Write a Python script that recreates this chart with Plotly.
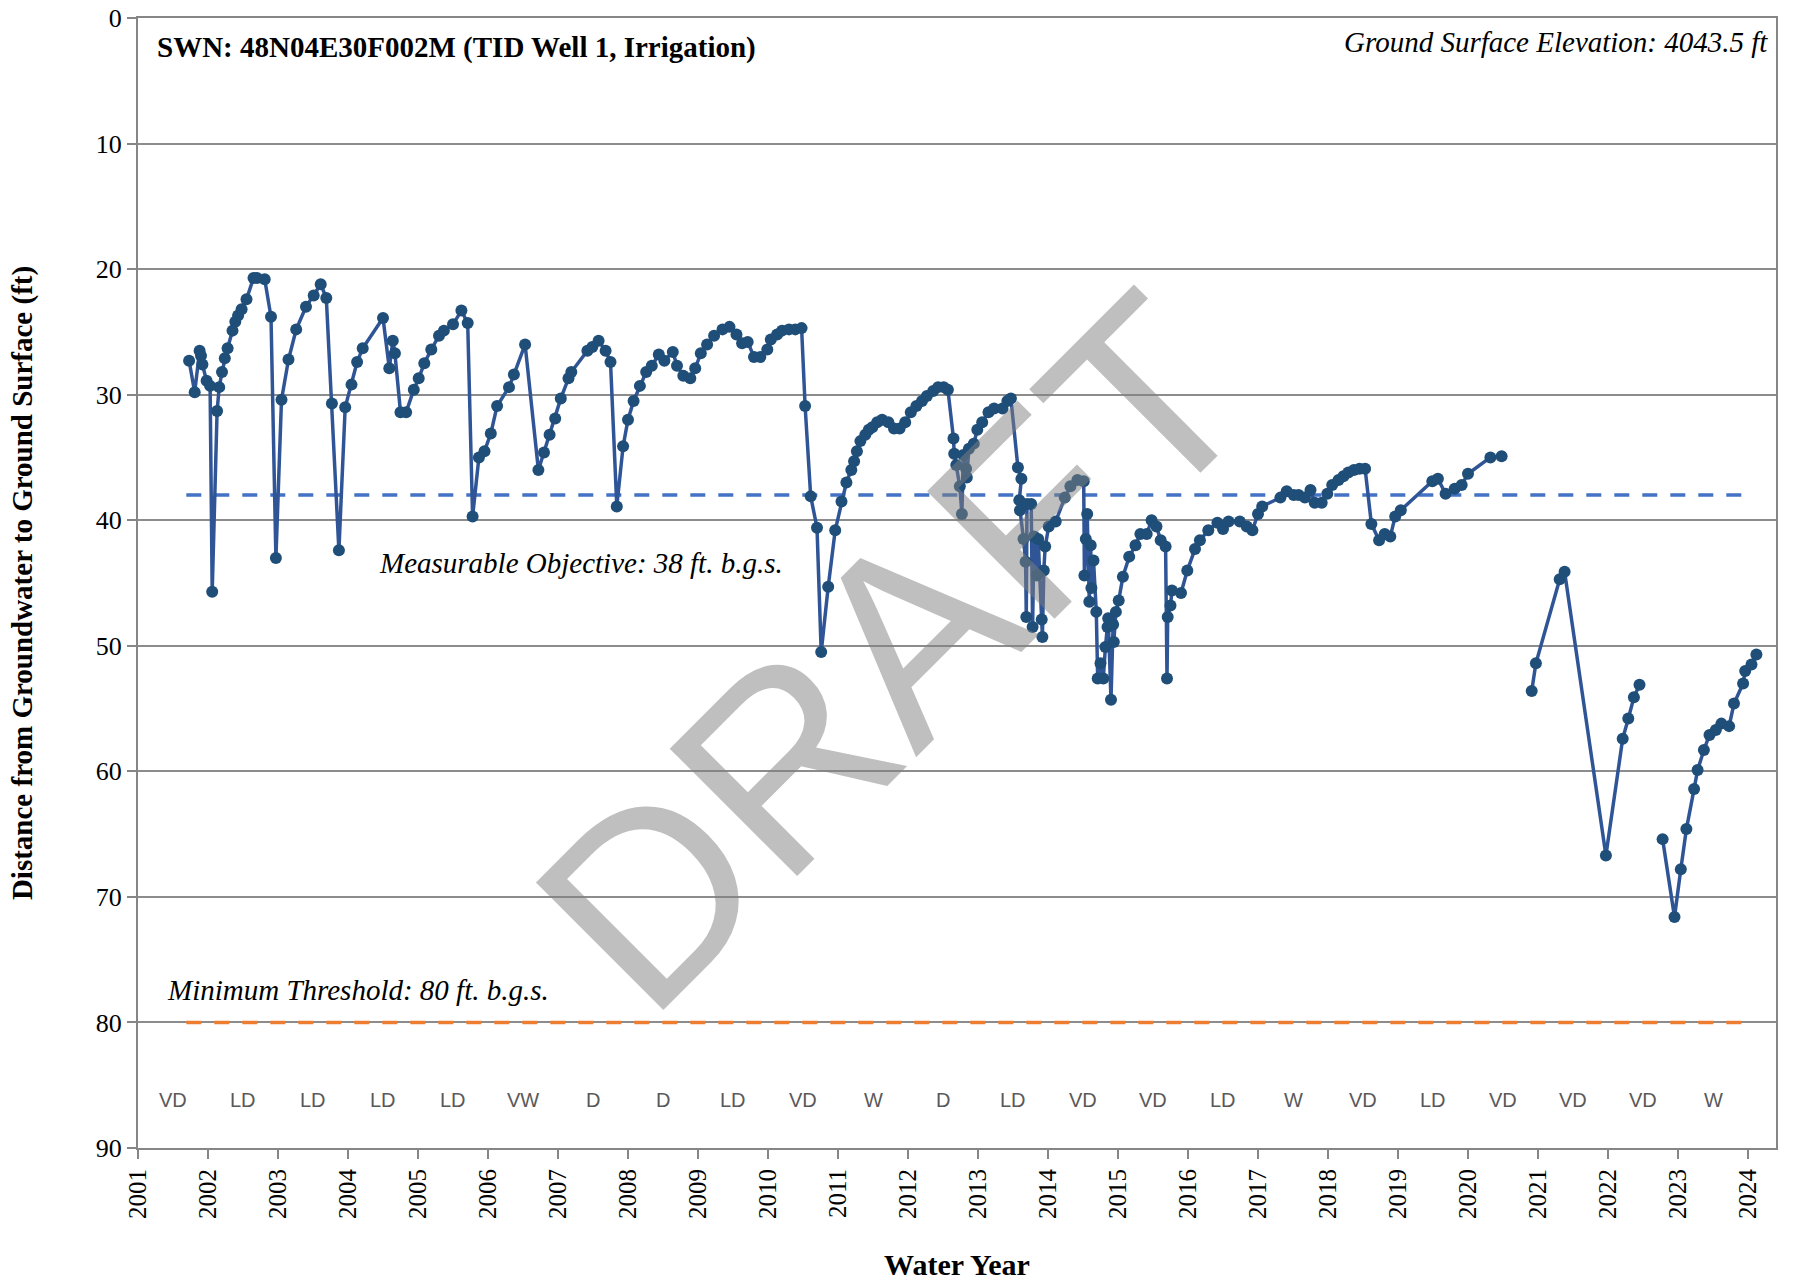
import plotly.graph_objects as go

# measurement dates (decimal year) and depth to water (ft below ground surface)
years = [
    2001.73, 2001.81, 2001.88, 2001.90, 2001.92, 2001.98, 2002.03, 2002.06, 2002.13, 2002.16,
    2002.20, 2002.24, 2002.28, 2002.35, 2002.39, 2002.43, 2002.48, 2002.55, 2002.65, 2002.70,
    2002.81, 2002.90, 2002.97, 2003.05, 2003.15, 2003.26, 2003.40, 2003.51, 2003.61, 2003.69,
    2003.77, 2003.87, 2003.96, 2004.05, 2004.13, 2004.21, 2004.50, 2004.59, 2004.64, 2004.67,
    2004.75, 2004.83, 2004.94, 2005.01, 2005.09, 2005.19, 2005.30, 2005.37, 2005.50, 2005.62,
    2005.71, 2005.78, 2005.87, 2005.95, 2006.04, 2006.13, 2006.30, 2006.37, 2006.53, 2006.72,
    2006.80, 2006.88, 2006.96, 2007.04, 2007.15, 2007.19, 2007.42, 2007.49, 2007.58, 2007.68,
    2007.75, 2007.84, 2007.93, 2008.00, 2008.08, 2008.17, 2008.26, 2008.34, 2008.44, 2008.52,
    2008.64, 2008.70, 2008.79, 2008.89, 2008.96, 2009.04, 2009.13, 2009.23, 2009.35, 2009.45,
    2009.55, 2009.63, 2009.71, 2009.80, 2009.89, 2009.99, 2010.04, 2010.13, 2010.20, 2010.30,
    2010.39, 2010.48, 2010.53, 2010.61, 2010.70, 2010.76, 2010.86, 2010.96, 2011.05, 2011.12,
    2011.19, 2011.23, 2011.27, 2011.32, 2011.39, 2011.44, 2011.49, 2011.56, 2011.63, 2011.72,
    2011.80, 2011.88, 2011.96, 2012.04, 2012.12, 2012.20, 2012.27, 2012.36, 2012.43, 2012.51,
    2012.57, 2012.65, 2012.66, 2012.69, 2012.74, 2012.77, 2012.79, 2012.83, 2012.84, 2012.87,
    2012.94, 2012.99, 2013.06, 2013.15, 2013.23, 2013.35, 2013.42, 2013.47, 2013.57, 2013.62,
    2013.59, 2013.60, 2013.65, 2013.68, 2013.69, 2013.70, 2013.76, 2013.78, 2013.80, 2013.84,
    2013.86, 2013.91, 2013.92, 2013.94, 2013.96, 2014.01, 2014.11, 2014.24, 2014.32, 2014.42,
    2014.51, 2014.52, 2014.54, 2014.56, 2014.59, 2014.61, 2014.62, 2014.65, 2014.69, 2014.71,
    2014.75, 2014.79, 2014.82, 2014.85, 2014.86, 2014.90, 2014.93, 2014.94, 2014.97, 2015.01,
    2015.07, 2015.16, 2015.25, 2015.32, 2015.41, 2015.48, 2015.55, 2015.61, 2015.68, 2015.70,
    2015.71, 2015.75, 2015.77, 2015.90, 2015.99, 2016.10, 2016.17, 2016.29, 2016.42, 2016.50,
    2016.58, 2016.74, 2016.84, 2016.92, 2017.00, 2017.06, 2017.32, 2017.41, 2017.51, 2017.58,
    2017.67, 2017.75, 2017.81, 2017.91, 2017.99, 2018.06, 2018.15, 2018.22, 2018.29, 2018.37,
    2018.45, 2018.53, 2018.62, 2018.73, 2018.81, 2018.89, 2018.96, 2019.04, 2019.49, 2019.57,
    2019.68, 2019.81, 2019.91, 2020.00, 2020.32, 2020.48, 2020.70, 2020.91, 2020.97, 2021.31,
    2021.38, 2021.97, 2022.21, 2022.29, 2022.37, 2022.45, 2022.60, 2022.78, 2022.95, 2023.04,
    2023.12, 2023.23, 2023.28, 2023.37, 2023.45, 2023.54, 2023.62, 2023.73, 2023.80, 2023.93,
    2023.96, 2024.05, 2024.12,
]
depth = [
    27.3, 29.8, 26.5, 26.9, 27.6, 28.9, 29.3, 45.7, 31.3, 29.4,
    28.2, 27.1, 26.3, 24.9, 24.2, 23.7, 23.2, 22.4, 20.7, 20.7,
    20.8, 23.8, 43.0, 30.4, 27.2, 24.8, 23.0, 22.1, 21.2, 22.3,
    30.7, 42.4, 31.0, 29.2, 27.4, 26.3, 23.9, 27.9, 25.7, 26.7,
    31.4, 31.4, 29.6, 28.7, 27.5, 26.4, 25.3, 24.9, 24.4, 23.3,
    24.3, 39.7, 35.0, 34.5, 33.1, 30.9, 29.4, 28.4, 26.0, 36.0,
    34.6, 33.2, 31.9, 30.3, 28.7, 28.2, 26.5, 26.2, 25.7, 26.5,
    27.4, 38.9, 34.1, 32.0, 30.5, 29.3, 28.2, 27.7, 26.8, 27.3,
    26.6, 27.7, 28.5, 28.7, 27.9, 26.7, 26.0, 25.3, 24.8, 24.6,
    25.2, 25.9, 25.8, 27.0, 27.0, 26.4, 25.6, 25.2, 24.9, 24.8,
    24.8, 24.7, 30.9, 38.1, 40.6, 50.5, 45.3, 40.8, 38.5, 37.0,
    36.0, 35.3, 34.5, 33.7, 33.2, 32.8, 32.6, 32.2, 32.0, 32.2,
    32.7, 32.7, 32.2, 31.4, 30.9, 30.5, 30.1, 29.7, 29.4, 29.4,
    29.6, 33.5, 34.7, 35.6, 37.3, 39.5, 34.8, 35.9, 36.6, 34.3,
    33.9, 32.8, 32.2, 31.4, 31.1, 31.1, 30.5, 30.3, 35.8, 36.7,
    38.4, 39.2, 41.5, 43.3, 47.7, 38.7, 38.7, 48.5, 41.3, 44.4,
    41.5, 47.9, 49.3, 44.0, 42.1, 40.5, 40.1, 38.2, 37.3, 36.8,
    36.9, 44.4, 41.5, 39.5, 46.5, 42.0, 45.4, 43.2, 47.3, 52.6,
    51.4, 52.6, 50.1, 48.5, 47.8, 54.3, 48.3, 49.7, 47.3, 46.4,
    44.5, 42.9, 42.0, 41.1, 41.1, 40.0, 40.5, 41.6, 42.1, 52.6,
    47.7, 46.8, 45.6, 45.8, 44.0, 42.3, 41.6, 40.8, 40.2, 40.7,
    40.1, 40.1, 40.5, 40.8, 39.5, 38.9, 38.2, 37.7, 38.0, 38.0,
    38.2, 37.6, 38.6, 38.6, 37.9, 37.2, 36.8, 36.5, 36.2, 36.0,
    35.9, 35.9, 40.3, 41.6, 41.1, 41.3, 39.7, 39.2, 36.9, 36.7,
    37.9, 37.5, 37.2, 36.3, 35.0, 34.9, None, 53.6, 51.4, 44.7,
    44.1, 66.7, 57.4, 55.8, 54.1, 53.1, None, 65.4, 71.6, 67.8,
    64.6, 61.4, 59.9, 58.3, 57.1, 56.7, 56.2, 56.4, 54.6, 53.0,
    52.0, 51.5, 50.7,
]

# water year types, one per year 2001..2023
wy_types = ["VD", "LD", "LD", "LD", "LD", "VW", "D", "D", "LD", "VD", "W", "D",
            "LD", "VD", "VD", "LD", "W", "VD", "LD", "VD", "VD", "VD", "W"]
wy_start = list(range(2001, 2001 + len(wy_types)))

mo_value = 38
mt_value = 80
ref_x = [2001.69, 2023.93]

serif = "Liberation Serif, Times New Roman, serif"

fig = go.Figure()
fig.add_trace(go.Scatter(x=ref_x, y=[mo_value, mo_value], mode="lines",
                         line=dict(color="#4472C4", width=3.5, dash="15px,13px"),
                         hoverinfo="skip", showlegend=False))
fig.add_trace(go.Scatter(x=ref_x, y=[mt_value, mt_value], mode="lines",
                         line=dict(color="#ED7D31", width=3.5, dash="15px,13px"),
                         hoverinfo="skip", showlegend=False))
fig.add_trace(go.Scatter(x=years, y=depth, mode="lines+markers",
                         line=dict(color="#2F5597", width=3.5),
                         marker=dict(color="#1F4E79", size=12),
                         connectgaps=False, showlegend=False))

for yr, t in zip(wy_start, wy_types):
    fig.add_annotation(x=yr + 0.5, y=86.2, text=t, showarrow=False,
                       font=dict(family="Liberation Sans, Arial", size=20, color="#595959"))

fig.add_annotation(x=2004.42, y=43.4, text="<i>Measurable Objective: 38 ft. b.g.s.</i>",
                   showarrow=False, xanchor="left", yanchor="middle",
                   font=dict(family=serif, size=29, color="black"))
fig.add_annotation(x=2001.38, y=77.4, text="<i>Minimum Threshold: 80 ft. b.g.s.</i>",
                   showarrow=False, xanchor="left", yanchor="middle",
                   font=dict(family=serif, size=29, color="black"))
fig.add_annotation(xref="paper", yref="paper", x=0.0104, y=0.974,
                   text="<b>SWN: 48N04E30F002M (TID Well 1, Irrigation)</b>",
                   showarrow=False, xanchor="left", yanchor="middle",
                   font=dict(family=serif, size=29, color="black"))
fig.add_annotation(xref="paper", yref="paper", x=0.9965, y=0.979,
                   text="<i>Ground Surface Elevation: 4043.5 ft</i>",
                   showarrow=False, xanchor="right", yanchor="middle",
                   font=dict(family=serif, size=29, color="black"))

# watermark
fig.add_annotation(x=2011.78, y=50.5, text="DRAFT", showarrow=False, textangle=-45,
                   font=dict(family="Liberation Sans, Arial", size=262,
                             color="rgba(128,128,128,0.5)"))

fig.update_xaxes(range=[2001, 2024.4], tick0=2001, dtick=1, tickangle=-90,
                 ticks="outside", ticklen=9, tickcolor="#868686", tickwidth=2,
                 showgrid=False, zeroline=False, automargin=False,
                 showline=True, linecolor="#868686", linewidth=2, mirror=True,
                 tickfont=dict(family=serif, size=25, color="black"),
                 title=dict(text="<b>Water Year</b>", standoff=42,
                            font=dict(family=serif, size=30, color="black")))
fig.update_yaxes(range=[90, 0], tick0=0, dtick=10,
                 ticks="outside", ticklen=9, tickcolor="#868686", tickwidth=2,
                 showgrid=True, gridcolor="#8c8c8c", gridwidth=2, zeroline=False,
                 automargin=False,
                 showline=True, linecolor="#868686", linewidth=2, mirror=True,
                 tickfont=dict(family=serif, size=26, color="black"),
                 title=dict(text="<b>Distance from Groundwater to Ground Surface (ft)</b>",
                            standoff=55,
                            font=dict(family=serif, size=29, color="black")))

fig.update_layout(width=1793, height=1281,
                  margin=dict(l=138, r=17, t=18, b=133),
                  paper_bgcolor="white", plot_bgcolor="white")

# drop the default page margin so the figure sits at the window's corner
fig.write_html("out.html", config={"displayModeBar": False},
               post_script="document.body.style.margin = '0';")
